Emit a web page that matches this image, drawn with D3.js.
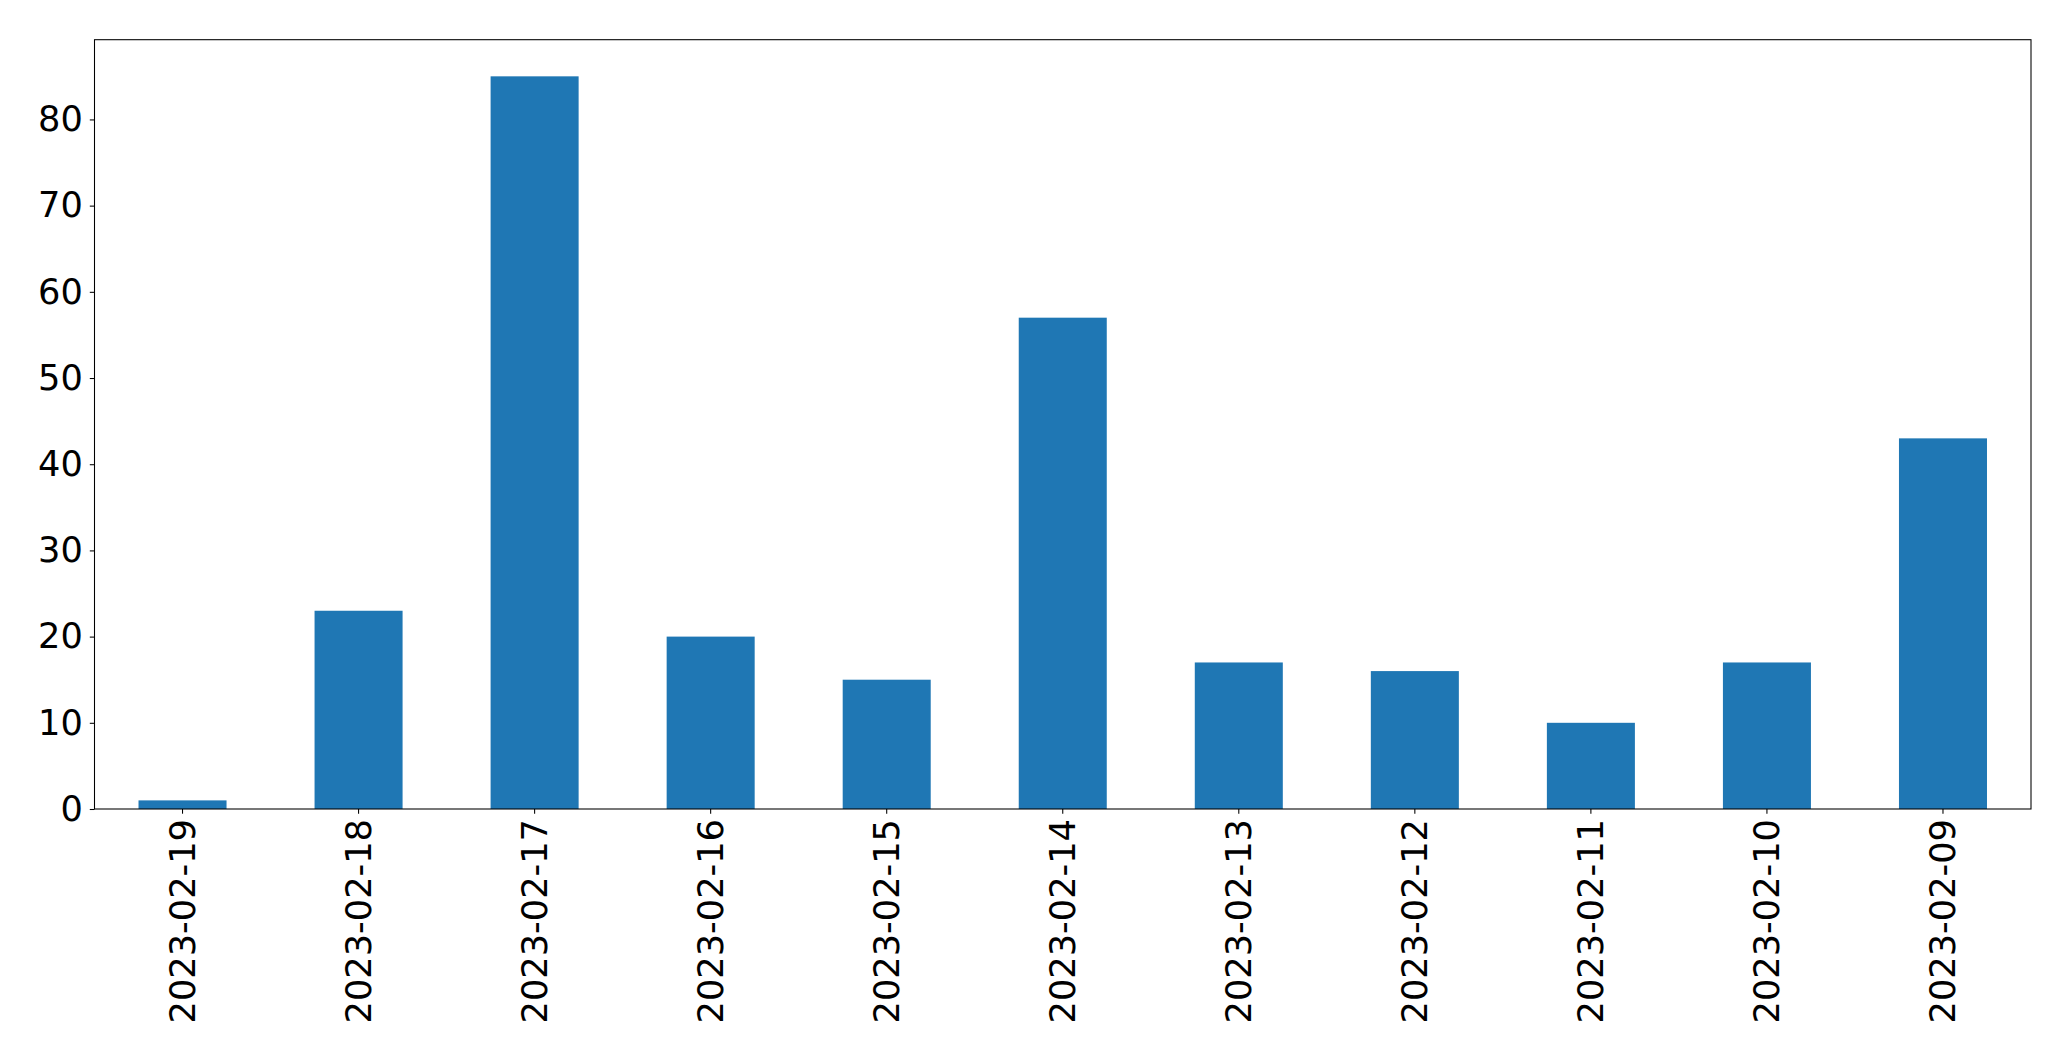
<!DOCTYPE html>
<html>
<head>
<meta charset="utf-8">
<script src="https://cdn.jsdelivr.net/npm/d3@7"></script>
<style>
  html, body { margin: 0; padding: 0; background: #fff; }
  svg { display: block; }
  text { font-family: "DejaVu Sans", sans-serif; }
</style>
</head>
<body>
<script>
const categories = ["2023-02-19","2023-02-18","2023-02-17","2023-02-16","2023-02-15","2023-02-14","2023-02-13","2023-02-12","2023-02-11","2023-02-10","2023-02-09"];
const values = [1, 23, 85, 20, 15, 57, 17, 16, 10, 17, 43];
const yTicks = [0, 10, 20, 30, 40, 50, 60, 70, 80];

(function () {
const W = 2071, H = 1061;
const mLeft = 94.5, mRight = 2031, mTop = 39.7, mBottom = 809;
const fontSize = 35.2;

const svg = d3.select("body").append("svg").attr("width", W).attr("height", H);

const x = d3.scaleBand().domain(categories).range([mLeft, mRight]).paddingInner(0.5).paddingOuter(0.25);
const y = d3.scaleLinear().domain([0, 85 * 1.05]).range([mBottom, mTop]);

svg.append("g").selectAll("rect").data(values).join("rect")
  .attr("x", (d, i) => x(categories[i]))
  .attr("width", x.bandwidth())
  .attr("y", d => y(d))
  .attr("height", d => y(0) - y(d))
  .attr("fill", "#1f77b4");

const yAxis = svg.append("g").attr("transform", `translate(${mLeft},0)`)
  .call(d3.axisLeft(y).tickValues(yTicks).tickSize(4.7).tickPadding(7).tickFormat(d3.format("d")));
yAxis.select(".domain").remove();
yAxis.selectAll("line").attr("stroke", "#000").attr("stroke-width", 1.07);
yAxis.selectAll("text").attr("font-size", fontSize).attr("font-family", "DejaVu Sans").attr("fill", "#000");

const xAxis = svg.append("g").attr("transform", `translate(0,${mBottom})`)
  .call(d3.axisBottom(x).tickSize(4.7));
xAxis.select(".domain").remove();
xAxis.selectAll("line").attr("stroke", "#000").attr("stroke-width", 1.07);
xAxis.selectAll("text")
  .attr("font-size", fontSize).attr("font-family", "DejaVu Sans").attr("fill", "#000")
  .attr("transform", "rotate(-90)")
  .attr("x", -10).attr("y", 0).attr("dy", "0.35em")
  .attr("text-anchor", "end");

svg.append("rect")
  .attr("x", mLeft).attr("y", mTop)
  .attr("width", mRight - mLeft).attr("height", mBottom - mTop)
  .attr("fill", "none").attr("stroke", "#000").attr("stroke-width", 1.07);
})();
</script>
</body>
</html>
